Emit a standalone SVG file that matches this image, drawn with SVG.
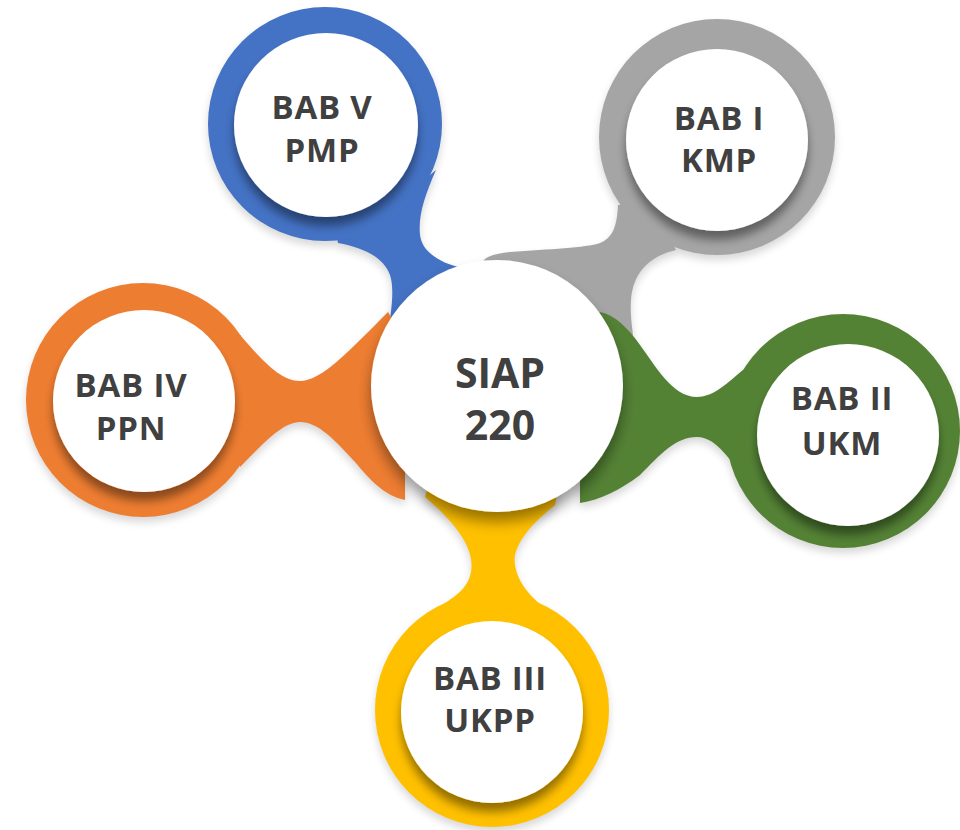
<svg xmlns="http://www.w3.org/2000/svg" width="960" height="830" viewBox="0 0 960 830">
  <defs>
    <filter id="halo" x="-20%" y="-20%" width="140%" height="150%">
      <feGaussianBlur in="SourceAlpha" stdDeviation="4"/>
      <feOffset dy="5"/>
      <feComponentTransfer><feFuncA type="linear" slope="0.16"/></feComponentTransfer>
    </filter>
    <filter id="inner" x="-30%" y="-30%" width="160%" height="170%">
      <feGaussianBlur in="SourceAlpha" stdDeviation="5"/>
      <feOffset dy="9"/>
      <feComponentTransfer><feFuncA type="linear" slope="0.42"/></feComponentTransfer>
      <feMerge><feMergeNode/><feMergeNode in="SourceGraphic"/></feMerge>
    </filter>
    <filter id="hub" x="-30%" y="-30%" width="160%" height="170%">
      <feGaussianBlur in="SourceAlpha" stdDeviation="7"/>
      <feOffset dy="10"/>
      <feComponentTransfer><feFuncA type="linear" slope="0.4"/></feComponentTransfer>
      <feMerge><feMergeNode/><feMergeNode in="SourceGraphic"/></feMerge>
    </filter>
  </defs>
  <style>
    .lbl { font-family: "Open Sans", "Liberation Sans", sans-serif; font-weight: 700; fill: #404040; text-anchor: middle; }
    .n { font-size: 33px; letter-spacing: 0.8px; }
    .c { font-size: 41px; }
    .face { fill: #ffffff; filter: url(#inner); }
  </style>

  <rect width="960" height="830" fill="#ffffff"/>

  <!-- faint cast shadow under every ring and neck -->
  <g id="backdrop" filter="url(#halo)">
    <use href="#neck-blue"/><use href="#neck-gray"/><use href="#neck-orange"/><use href="#neck-green"/><use href="#neck-yellow"/>
    <use href="#ring-blue"/><use href="#ring-gray"/><use href="#ring-orange"/><use href="#ring-green"/><use href="#ring-yellow"/>
  </g>

  <!-- connectors: necks joining each ring to the hub -->
  <g id="connectors">
    <path id="neck-blue" fill="#4472C4" d="M400,200 L436,170 C425,195 418,215 420,235 C422,252 440,263 462,268 L470,320 L395,350 L386,345 C391,315 395,290 390,275 C384,258 365,248 338,243 L330,200 Z"/>
    <path id="neck-gray" fill="#A5A5A5" d="M650,200 L676,250 C650,256 633,272 631,300 C630,315 632,325 633,335 L610,360 L595,312 C570,288 530,268 484,264 C481,259 490,254 510,252 C550,249 585,248 600,243 C612,238 617,228 618,205 Z"/>
    <path id="neck-orange" fill="#ED7D31" d="M230,360 L240,335 C262,360 280,381 300,381 C322,381 350,350 388,312 L440,400 L405,460 L405,500 C385,496 370,480 355,462 C335,440 318,422 300,422 C282,422 262,445 240,467 Z"/>
    <path id="neck-green" fill="#548235" d="M760,420 L748,366 C730,380 715,397 697,397 C672,397 655,365 640,345 C628,328 615,315 600,312 L560,380 L580,480 L580,503 C600,500 620,490 640,475 C660,455 675,437 697,437 C718,437 733,465 745,480 Z"/>
    <path id="neck-yellow" fill="#FFC000" d="M490,650 L438,608 C452,598 468,590 471,572 C474,555 465,540 455,527 C445,515 435,505 425,497 L430,480 L560,480 L555,505 C540,517 520,535 515,555 C512,575 528,598 553,613 Z"/>
  </g>

  <g id="node-bab-v">
    <circle id="ring-blue" cx="325" cy="124" r="117" fill="#4472C4"/>
    <circle class="face" cx="326" cy="125" r="92"/>
    <text class="lbl n" x="322" y="119">BAB V</text>
    <text class="lbl n" x="322" y="162">PMP</text>
  </g>

  <g id="node-bab-i">
    <circle id="ring-gray" cx="717" cy="137" r="118" fill="#A5A5A5"/>
    <circle class="face" cx="717" cy="140" r="91"/>
    <text class="lbl n" x="719" y="130">BAB I</text>
    <text class="lbl n" x="719" y="172">KMP</text>
  </g>

  <g id="node-bab-iv">
    <circle id="ring-orange" cx="143" cy="400" r="117" fill="#ED7D31"/>
    <circle class="face" cx="144" cy="401" r="91"/>
    <text class="lbl n" x="131" y="397">BAB IV</text>
    <text class="lbl n" x="131" y="440">PPN</text>
  </g>

  <g id="node-bab-ii">
    <circle id="ring-green" cx="843" cy="431" r="117" fill="#548235"/>
    <circle class="face" cx="848" cy="435" r="91"/>
    <text class="lbl n" x="842" y="410">BAB II</text>
    <text class="lbl n" x="842" y="455">UKM</text>
  </g>

  <g id="node-bab-iii">
    <circle id="ring-yellow" cx="492" cy="710" r="117" fill="#FFC000"/>
    <circle class="face" cx="492" cy="712" r="91"/>
    <text class="lbl n" x="490" y="690">BAB III</text>
    <text class="lbl n" x="490" y="732">UKPP</text>
  </g>

  <g id="hub">
    <circle cx="497" cy="386" r="126" fill="#ffffff" filter="url(#hub)"/>
    <text class="lbl c" x="500" y="388">SIAP</text>
    <text class="lbl c" x="500" y="440">220</text>
  </g>
</svg>
